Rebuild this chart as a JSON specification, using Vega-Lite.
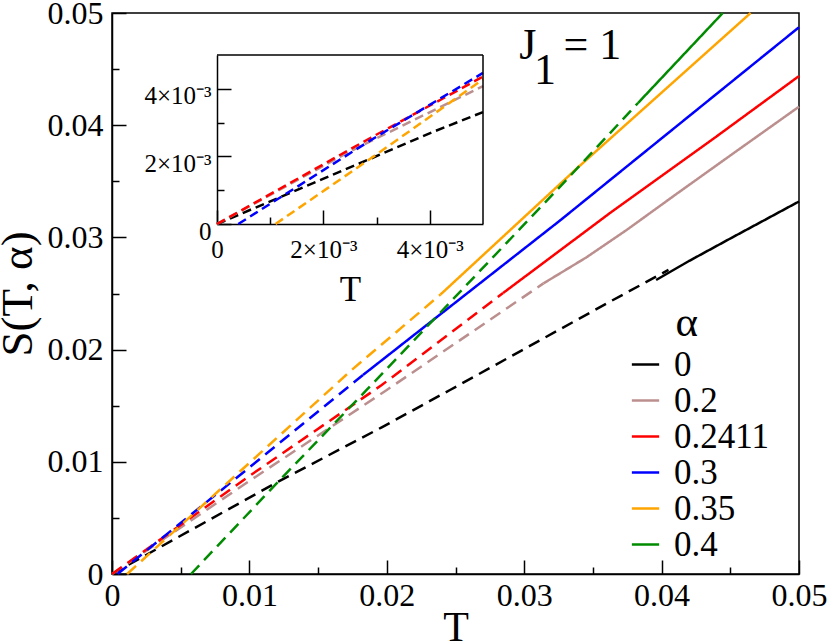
{
  "$schema": "https://vega.github.io/schema/vega-lite/v6.json",
  "width": 687,
  "height": 561,
  "autosize": "none",
  "padding": {"left": 112, "top": 13, "right": 31, "bottom": 70},
  "background": "white",
  "datasets": {
    "main": [
      {"a": "0", "seg": "dashed", "T": 0, "S": 0},
      {"a": "0", "seg": "dashed", "T": 0.00313, "S": 0.00214},
      {"a": "0", "seg": "dashed", "T": 0.0121, "S": 0.00823},
      {"a": "0", "seg": "dashed", "T": 0.01963, "S": 0.01307},
      {"a": "0", "seg": "dashed", "T": 0.0246, "S": 0.0164},
      {"a": "0", "seg": "dashed", "T": 0.03624, "S": 0.02427},
      {"a": "0", "seg": "dashed", "T": 0.0405, "S": 0.0271},
      {"a": "0", "seg": "solid", "T": 0.0396, "S": 0.0262},
      {"a": "0", "seg": "solid", "T": 0.042, "S": 0.0279},
      {"a": "0", "seg": "solid", "T": 0.045, "S": 0.0299},
      {"a": "0", "seg": "solid", "T": 0.05, "S": 0.0332},
      {"a": "0.2", "seg": "dashed", "T": 0, "S": 0},
      {"a": "0.2", "seg": "dashed", "T": 0.00992, "S": 0.00823},
      {"a": "0.2", "seg": "dashed", "T": 0.02, "S": 0.0164},
      {"a": "0.2", "seg": "dashed", "T": 0.0314, "S": 0.0259},
      {"a": "0.2", "seg": "solid", "T": 0.0314, "S": 0.0259},
      {"a": "0.2", "seg": "solid", "T": 0.0345, "S": 0.0282},
      {"a": "0.2", "seg": "solid", "T": 0.0375, "S": 0.0307},
      {"a": "0.2", "seg": "solid", "T": 0.041, "S": 0.0338},
      {"a": "0.2", "seg": "solid", "T": 0.045, "S": 0.0373},
      {"a": "0.2", "seg": "solid", "T": 0.05, "S": 0.04165},
      {"a": "0.2411", "seg": "dashed", "T": 0, "S": 0},
      {"a": "0.2411", "seg": "dashed", "T": 0.00992, "S": 0.00867},
      {"a": "0.2411", "seg": "dashed", "T": 0.01963, "S": 0.01684},
      {"a": "0.2411", "seg": "dashed", "T": 0.02846, "S": 0.02504},
      {"a": "0.2411", "seg": "solid", "T": 0.02846, "S": 0.02504},
      {"a": "0.2411", "seg": "solid", "T": 0.03624, "S": 0.03217},
      {"a": "0.2411", "seg": "solid", "T": 0.044, "S": 0.039},
      {"a": "0.2411", "seg": "solid", "T": 0.05, "S": 0.04438},
      {"a": "0.3", "seg": "dashed", "T": 0.0004, "S": 0},
      {"a": "0.3", "seg": "dashed", "T": 0.00992, "S": 0.00942},
      {"a": "0.3", "seg": "dashed", "T": 0.01827, "S": 0.01774},
      {"a": "0.3", "seg": "solid", "T": 0.01827, "S": 0.01774},
      {"a": "0.3", "seg": "solid", "T": 0.0326, "S": 0.0315},
      {"a": "0.3", "seg": "solid", "T": 0.05, "S": 0.04873},
      {"a": "0.35", "seg": "dashed", "T": 0.0011, "S": 0},
      {"a": "0.35", "seg": "dashed", "T": 0.01744, "S": 0.01818},
      {"a": "0.35", "seg": "dashed", "T": 0.0239, "S": 0.0249},
      {"a": "0.35", "seg": "solid", "T": 0.0239, "S": 0.0249},
      {"a": "0.35", "seg": "solid", "T": 0.0337, "S": 0.036},
      {"a": "0.35", "seg": "solid", "T": 0.04648, "S": 0.05},
      {"a": "0.4", "seg": "dashed", "T": 0.00575, "S": 0},
      {"a": "0.4", "seg": "dashed", "T": 0.0121, "S": 0.00823},
      {"a": "0.4", "seg": "dashed", "T": 0.01853, "S": 0.0164},
      {"a": "0.4", "seg": "dashed", "T": 0.0326, "S": 0.0345},
      {"a": "0.4", "seg": "dashed", "T": 0.0383, "S": 0.042},
      {"a": "0.4", "seg": "solid", "T": 0.0383, "S": 0.042},
      {"a": "0.4", "seg": "solid", "T": 0.04445, "S": 0.05}
    ],
    "inset": [
      {"a": "0", "t": 0, "s": 0},
      {"a": "0", "t": 0.0026, "s": 0.00174},
      {"a": "0", "t": 0.0041, "s": 0.00275},
      {"a": "0", "t": 0.005, "s": 0.00331},
      {"a": "0.2", "t": 0, "s": 0},
      {"a": "0.2", "t": 0.0025, "s": 0.00215},
      {"a": "0.2", "t": 0.005, "s": 0.00408},
      {"a": "0.2411", "t": 0, "s": 0},
      {"a": "0.2411", "t": 0.0029, "s": 0.00256},
      {"a": "0.2411", "t": 0.005, "s": 0.00436},
      {"a": "0.3", "t": 0.0004, "s": 0},
      {"a": "0.3", "t": 0.0029, "s": 0.00249},
      {"a": "0.3", "t": 0.005, "s": 0.00447},
      {"a": "0.35", "t": 0.0011, "s": 0},
      {"a": "0.35", "t": 0.0029, "s": 0.00195},
      {"a": "0.35", "t": 0.005, "s": 0.00428}
    ],
    "frame": [
      {"t": 0, "t2": 0.005, "s": 0.005, "s2": 0.005},
      {"t": 0.005, "t2": 0.005, "s": 0, "s2": 0.005}
    ]
  },
  "layer": [
    {
      "layer": [
        {
          "data": {"name": "main"},
          "mark": {"type": "line", "strokeWidth": 2.5},
          "encoding": {
            "x": {
              "field": "T",
              "type": "quantitative",
              "scale": {"domain": [0, 0.05], "nice": false},
              "axis": {
                "orient": "bottom",
                "title": "T",
                "values": [0, 0.005, 0.01, 0.015, 0.02, 0.025, 0.03, 0.035, 0.04, 0.045, 0.05],
                "labelExpr": "round(datum.value*1000) % 10 == 0 ? (datum.value == 0 ? '0' : format(datum.value, '.2f')) : ''",
                "tickSize": {"condition": {"test": "round(datum.value*1000) % 10 == 0", "value": -14}, "value": -7},
                "labelPadding": 20,
                "labelFontSize": 32,
                "titleFontSize": 42,
                "titleBaseline": "alphabetic",
                "titlePadding": 22
              }
            },
            "y": {
              "field": "S",
              "type": "quantitative",
              "scale": {"domain": [0, 0.05], "nice": false},
              "axis": {
                "orient": "left",
                "title": "S(T, α)",
                "values": [0, 0.005, 0.01, 0.015, 0.02, 0.025, 0.03, 0.035, 0.04, 0.045, 0.05],
                "labelExpr": "round(datum.value*1000) % 10 == 0 ? (datum.value == 0 ? '0' : format(datum.value, '.2f')) : ''",
                "tickSize": {"condition": {"test": "round(datum.value*1000) % 10 == 0", "value": -14}, "value": -7},
                "labelPadding": 23,
                "labelFontSize": 32,
                "titleFontSize": 45,
                "titlePadding": 7
              }
            },
            "color": {
              "field": "a",
              "type": "nominal",
              "scale": {
                "domain": ["0", "0.2", "0.2411", "0.3", "0.35", "0.4"],
                "range": ["#000000", "#bc8f8f", "#ff0000", "#0000ff", "#ffa500", "#008b00"]
              },
              "legend": {
                "title": "α",
                "orient": "none",
                "legendX": 516,
                "legendY": 289,
                "padding": 0,
                "titleFontSize": 43,
                "titleFontWeight": "normal",
                "titleAnchor": "middle",
                "titleAlign": "right",
                "titlePadding": 2,
                "labelFontSize": 35,
                "labelOffset": 11,
                "rowPadding": -1,
                "symbolType": "stroke",
                "symbolSize": 745,
                "symbolStrokeWidth": 2.5
              }
            },
            "strokeDash": {
              "field": "seg",
              "type": "nominal",
              "scale": {"domain": ["dashed", "solid"], "range": [[12, 7], [1, 0]]},
              "legend": null
            }
          }
        },
        {
          "data": {"values": [{"T": 0.02964, "S": 0.04587, "label": "J"}, {"T": 0.03286, "S": 0.04587, "label": "= 1"}]},
          "mark": {"type": "text", "align": "left", "baseline": "alphabetic", "fontSize": 44, "color": "black"},
          "encoding": {
            "x": {"field": "T", "type": "quantitative"},
            "y": {"field": "S", "type": "quantitative"},
            "text": {"field": "label"}
          }
        },
        {
          "data": {"values": [{"T": 0.03071, "S": 0.0437, "label": "1"}]},
          "mark": {"type": "text", "align": "left", "baseline": "alphabetic", "fontSize": 44, "color": "black"},
          "encoding": {
            "x": {"field": "T", "type": "quantitative"},
            "y": {"field": "S", "type": "quantitative"},
            "text": {"field": "label"}
          }
        }
      ]
    },
    {
      "layer": [
        {
          "data": {"name": "inset"},
          "mark": {"type": "line", "strokeWidth": 2.5, "strokeDash": [9, 5]},
          "encoding": {
            "x": {
              "field": "t",
              "type": "quantitative",
              "scale": {"domain": [0, 0.005], "range": [105, 371], "nice": false},
              "axis": {
                "orient": "bottom",
                "offset": -350,
                "title": "T",
                "values": [0, 0.001, 0.002, 0.003, 0.004],
                "labelExpr": "datum.value == 0 ? '0' : (round(datum.value*10000) % 20 == 0 ? format(datum.value*1000, 'd') + '×10⁻³' : '')",
                "tickSize": {"condition": {"test": "round(datum.value*10000) % 20 == 0", "value": -14}, "value": -7},
                "labelPadding": 27,
                "labelFontSize": 25,
                "titleFontSize": 35,
                "titleBaseline": "alphabetic",
                "titlePadding": 31
              }
            },
            "y": {
              "field": "s",
              "type": "quantitative",
              "scale": {"domain": [0, 0.005], "range": [211, 42], "nice": false},
              "axis": {
                "orient": "left",
                "offset": -105,
                "title": null,
                "values": [0, 0.001, 0.002, 0.003, 0.004],
                "labelExpr": "datum.value == 0 ? '0' : (round(datum.value*10000) % 20 == 0 ? format(datum.value*1000, 'd') + '×10⁻³' : '')",
                "tickSize": {"condition": {"test": "round(datum.value*10000) % 20 == 0", "value": -14}, "value": -7},
                "labelPadding": 20,
                "labelOffset": 7,
                "labelFontSize": 25
              }
            },
            "color": {"field": "a", "type": "nominal"}
          }
        },
        {
          "data": {"name": "frame"},
          "mark": {"type": "rule", "color": "black", "strokeWidth": 1.5},
          "encoding": {
            "x": {"field": "t", "type": "quantitative", "title": "T"},
            "x2": {"field": "t2"},
            "y": {"field": "s", "type": "quantitative", "title": null},
            "y2": {"field": "s2"}
          }
        }
      ]
    }
  ],
  "resolve": {"scale": {"x": "independent", "y": "independent"}},
  "config": {
    "font": "Liberation Serif, Times New Roman, serif",
    "view": {"stroke": "black", "strokeWidth": 1.5},
    "axis": {
      "grid": false,
      "domainColor": "black",
      "domainWidth": 1.5,
      "tickColor": "black",
      "tickWidth": 1.5,
      "labelColor": "black",
      "titleColor": "black",
      "labelFont": "Liberation Serif, Times New Roman, serif",
      "titleFont": "Liberation Serif, Times New Roman, serif",
      "titleFontWeight": "normal",
      "labelFlush": false,
      "labelOverlap": false,
      "labelBound": false
    },
    "legend": {
      "labelFont": "Liberation Serif, Times New Roman, serif",
      "titleFont": "Liberation Serif, Times New Roman, serif",
      "labelColor": "black",
      "titleColor": "black"
    },
    "text": {"font": "Liberation Serif, Times New Roman, serif"}
  }
}
